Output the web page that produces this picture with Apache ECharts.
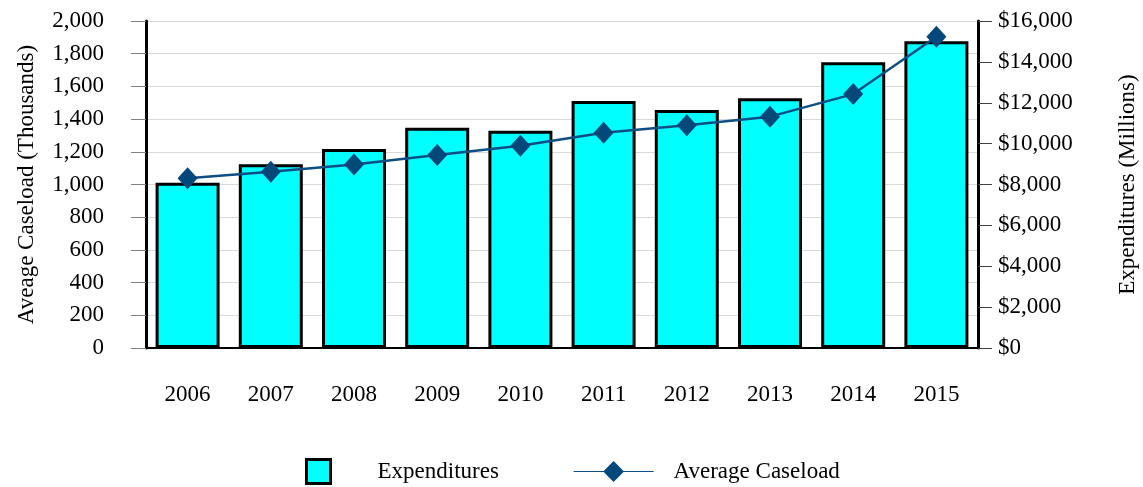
<!DOCTYPE html>
<html>
<head>
<meta charset="utf-8">
<script src="https://cdn.jsdelivr.net/npm/echarts@6/dist/echarts.min.js"></script>
<style>html,body{margin:0;padding:0;background:#fff}#c{width:1143px;height:487px}</style>
</head>
<body>
<div id="c"></div>
<script>
const years = ['2006','2007','2008','2009','2010','2011','2012','2013','2014','2015'];
const expenditures = [8090, 8990, 9740, 10780, 10630, 12090, 11650, 12220, 13980, 15010];
const caseload = [1038, 1078, 1123, 1180, 1237, 1317, 1362, 1415, 1553, 1904];

const FONT = '"Liberation Serif", "DejaVu Serif", serif';
const FS = 23;
const chart = echarts.init(document.getElementById('c'));
chart.setOption({
  animation: false,
  textStyle: { fontFamily: FONT, color: '#000' },
  grid: { left: 146, right: 165, top: 21, bottom: 139, containLabel: false, outerBoundsMode: 'none' },
  legend: [
    { data: ['Expenditures'], left: 305, top: 458, padding: 0, itemWidth: 24, itemHeight: 24, itemGap: 0,
      icon: 'rect',
      itemStyle: { color: '#00ffff', borderColor: '#000', borderWidth: 3 },
      textStyle: { fontFamily: FONT, fontSize: FS, color: '#000', padding: [0, 0, 0, 42] } },
    { data: ['Average Caseload'], left: 573, top: 460, padding: 0, itemWidth: 80, itemHeight: 26,
      lineStyle: { width: 1.2 },
      textStyle: { fontFamily: FONT, fontSize: FS, color: '#000', padding: [0, 0, 0, 15] } }
  ],
  xAxis: {
    type: 'category', data: years,
    axisLine: { lineStyle: { color: '#000', width: 2 } },
    axisTick: { alignWithLabel: true, length: 14, lineStyle: { color: '#808080' } },
    axisLabel: { fontFamily: FONT, fontSize: FS, color: '#000', margin: 35 }
  },
  yAxis: [
    { type: 'value', min: 0, max: 2000, interval: 200, position: 'left',
      name: 'Aveage Caseload (Thousands)', nameLocation: 'middle', nameGap: 108,
      nameTextStyle: { fontFamily: FONT, fontSize: FS, color: '#000' },
      axisLine: { show: true, lineStyle: { color: '#000', width: 3 } },
      axisTick: { show: true, length: 15, lineStyle: { color: '#808080' } },
      axisLabel: { fontFamily: FONT, fontSize: FS, color: '#000', margin: 42,
        formatter: v => v.toLocaleString('en-US') },
      splitLine: { lineStyle: { color: '#d9d9d9' } } },
    { type: 'value', min: 0, max: 16000, interval: 2000, position: 'right',
      name: 'Expenditures (Millions)', nameLocation: 'middle', nameGap: 138, nameRotate: 90,
      nameTextStyle: { fontFamily: FONT, fontSize: FS, color: '#000' },
      axisLine: { show: true, lineStyle: { color: '#000', width: 3 } },
      axisTick: { show: true, length: 14, lineStyle: { color: '#404040' } },
      axisLabel: { fontFamily: FONT, fontSize: FS, color: '#000', margin: 20,
        formatter: v => '$' + v.toLocaleString('en-US') },
      splitLine: { show: false } }
  ],
  series: [
    { name: 'Expenditures', type: 'bar', yAxisIndex: 1, data: expenditures,
      barWidth: 64,
      itemStyle: { color: '#00ffff', borderColor: '#000', borderWidth: 3 } },
    { name: 'Average Caseload', type: 'line', yAxisIndex: 0, data: caseload,
      symbol: 'diamond', symbolSize: [20, 22],
      lineStyle: { color: '#0d4f85', width: 2.5 },
      itemStyle: { color: '#02487a' } }
  ]
});
</script>
</body>
</html>
